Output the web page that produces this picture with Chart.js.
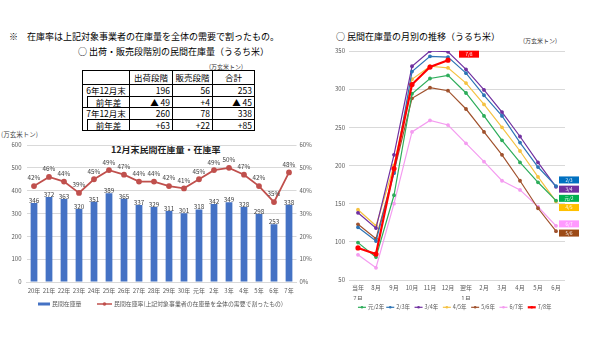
<!DOCTYPE html>
<html><head><meta charset="utf-8">
<script src="https://cdn.jsdelivr.net/npm/chart.js@4"></script>
<style>
body{margin:0;width:600px;height:338px;background:#fff;position:relative;overflow:hidden;font-family:"Noto Sans CJK JP",sans-serif;color:#000}
.abs{position:absolute;white-space:nowrap;line-height:12px}
#tbl{position:absolute;left:82px;top:70px;border-collapse:collapse;border:1.5px solid #000;font-size:8.5px;line-height:1}
#tbl td{border:1px solid #000;padding:0 2px;height:10.5px;text-align:right}
#tbl tr.h td{height:13px;text-align:center}
canvas{position:absolute}
</style></head><body>
<div class="abs" style="left:9px;top:31px;font-size:9px">※　在庫率は上記対象事業者の在庫量を全体の需要で割ったもの。</div>
<div class="abs" style="left:78px;top:46px;font-size:9px">○ 出荷・販売段階別の民間在庫量（うるち米）</div>
<div class="abs" style="left:209px;top:61px;font-size:6px;color:#333">(万玄米トン)</div>
<table id="tbl"></table>
<div class="abs" style="left:1px;top:128px;font-size:6.5px;color:#444">(万玄米トン)</div>
<div class="abs" style="left:111px;top:144px;font-size:9px;font-weight:bold;color:#222">12月末民間在庫量・在庫率</div>
<div class="abs" style="left:336px;top:31px;font-size:9px">○ 民間在庫量の月別の推移（うるち米）</div>
<div class="abs" style="left:523px;top:35px;font-size:6px;color:#333">(万玄米トン)</div>
<canvas id="c1" width="312" height="195" style="left:0;top:128px"></canvas>
<canvas id="c2" width="290" height="292" style="left:310px;top:30px"></canvas>
<script>
// ---- table data ----
const tableCols = ['出荷段階','販売段階','合計'];
const tableRowLabels = ['6年12月末','前年差','7年12月末','前年差'];
const tableValues = [
  ['196','56','253'],
  ['▲ 49','+4','▲ 45'],
  ['260','78','338'],
  ['+63','+22','+85']
];
// ---- left chart data ----
const years = ['20年','21年','22年','23年','24年','25年','26年','27年','28年','29年','30年','元年','2年','3年','4年','5年','6年','7年'];
const stockVolume = [346,372,363,320,351,389,365,337,329,311,301,318,342,349,328,298,253,338];
const stockRate = [42,46,44,39,45,49,47,44,44,42,41,45,49,50,47,42,35,48];
// ---- right chart data ----
const months = [['当年','7月'],'8月','9月','10月','11月','12月',['翌年','1月'],'2月','3月','4月','5月','6月'];
const seriesNames = ['元/2年','2/3年','3/4年','4/5年','5/6年','6/7年','7/8年'];
const seriesTags = ['元/2','2/3','3/4','4/5','5/6','6/7','7/8'];
const sR1_2 = [99,80,161,294,314,318,295,265,233,204,178,154];
const sR2_3 = [119,101,190,323,343,342,321,292,265,230,198,173];
const sR3_4 = [138,118,214,330,350,349,326,299,270,238,204,172];
const sR4_5 = [142,121,200,313,330,328,308,280,250,219,185,153];
const sR5_6 = [123,104,192,288,302,298,274,244,214,180,144,114];
const sR6_7 = [83,66,150,244,259,253,229,205,180,168,146,121];
const sR7_8 = [92,84,196,306,329,338];

// build table
(function(){
  const t=document.getElementById('tbl');
  let h='<tr class="h"><td colspan="2" style="width:42px"></td>'+tableCols.map((c,i)=>'<td style="width:'+[38,35,37][i]+'px">'+c+'</td>').join('')+'</tr>';
  tableRowLabels.forEach((lab,r)=>{
    const sub = lab==='前年差';
    h+='<tr>';
    if(!sub){ h+='<td colspan="2" style="text-align:center;border-bottom:none">'+lab+'</td>'; }
    else { h+='<td style="width:4px;border-top:none;padding:0"></td><td style="text-align:center;border-top:1px solid #000">'+lab+'</td>'; }
    tableValues[r].forEach(v=>{ h+='<td>'+v+'</td>'; });
    h+='</tr>';
  });
  t.innerHTML=h;
})();

const FONT='"Noto Sans CJK JP", sans-serif';
Chart.defaults.font.family=FONT;
Chart.defaults.color='#595959';
Chart.defaults.animation=false;

const leftLabels={id:'leftLabels',afterDatasetsDraw(chart){
  const ctx=chart.ctx;ctx.save();
  ctx.font='6.3px '+FONT;ctx.fillStyle='#404040';ctx.textAlign='center';ctx.textBaseline='middle';
  chart.getDatasetMeta(1).data.forEach((el,i)=>ctx.fillText(String(stockVolume[i]),el.x,el.y-2.5));
  chart.getDatasetMeta(0).data.forEach((el,i)=>ctx.fillText(stockRate[i]+'%',el.x,el.y-8));
  ctx.restore();
}};
const leftLegend={id:'leftLegend',afterDraw(chart){
  const ctx=chart.ctx,a=chart.chartArea;ctx.save();
  const y=a.bottom+22;
  ctx.font='5.9px '+FONT;ctx.textBaseline='middle';ctx.textAlign='left';
  ctx.fillStyle='#4472C4';ctx.fillRect(38,y-1.5,12,3);
  ctx.fillStyle='#595959';ctx.fillText('民間在庫量',52,y);
  ctx.strokeStyle='#C0504D';ctx.lineWidth=1.5;ctx.beginPath();ctx.moveTo(97,y);ctx.lineTo(112,y);ctx.stroke();
  ctx.fillStyle='#C0504D';ctx.beginPath();ctx.arc(104.5,y,1.8,0,Math.PI*2);ctx.fill();
  ctx.fillStyle='#595959';ctx.fillText('民間在庫率(上記対象事業者の在庫量を全体の需要で割ったもの)',114,y);
  ctx.restore();
}};

new Chart(document.getElementById('c1'),{
  data:{labels:years,datasets:[
    {type:'line',label:'民間在庫率',data:stockRate,yAxisID:'y1',borderColor:'#C0504D',backgroundColor:'#C0504D',borderWidth:1.8,pointRadius:2,pointHoverRadius:2,order:0},
    {type:'bar',label:'民間在庫量',data:stockVolume,yAxisID:'y',backgroundColor:'#4472C4',categoryPercentage:1,barPercentage:0.45,order:1}
  ]},
  options:{responsive:false,devicePixelRatio:1,
    layout:{padding:{top:17,bottom:22,left:0,right:0}},
    plugins:{legend:{display:false},tooltip:{enabled:false}},
    scales:{
      x:{offset:true,grid:{display:false,drawTicks:false},border:{color:'#D9D9D9'},ticks:{font:{size:6},padding:5,maxRotation:0,autoSkip:false},afterFit(s){s.height=19;}},
      y:{min:0,max:600,ticks:{stepSize:100,font:{size:6},padding:5},grid:{color:'#D9D9D9',drawTicks:false},border:{display:false},afterFit(s){s.width=26.5;}},
      y1:{position:'right',min:0,max:60,ticks:{stepSize:10,font:{size:6},padding:3,callback:v=>v+'%'},grid:{drawOnChartArea:false,drawTicks:false},border:{display:false},afterFit(s){s.width=15.5;}}
    }
  },
  plugins:[leftLabels,leftLegend]
});

// right chart
const lineColors=['#2EAD5B','#2E75B6','#7030A0','#F5C242','#A0522D','#F49CF0','#FF0000'];
const tagColors=['#00B050','#0070C0','#7030A0','#FFC000','#9C4A16','#FF99FF','#FF0000'];
const seriesData=[sR1_2,sR2_3,sR3_4,sR4_5,sR5_6,sR6_7,sR7_8];

const endTags={id:'endTags',afterDatasetsDraw(chart){
  const ctx=chart.ctx;ctx.save();
  const items=chart.data.datasets.map((ds,i)=>{
    const meta=chart.getDatasetMeta(i);const last=meta.data[meta.data.length-1];
    return {x:last.x,y:last.y,ly:last.y,tag:seriesTags[i],color:tagColors[i],full:meta.data.length===months.length};
  });
  const side=items.filter(o=>o.full).sort((a,b)=>a.y-b.y);
  const gap=9.2;
  for(let k=0;k<80;k++){for(let j=1;j<side.length;j++){const d=side[j].ly-side[j-1].ly;if(d<gap){const m=(gap-d)/2;side[j-1].ly-=m;side[j].ly+=m;}}}
  const draw=(x,yc,o)=>{ctx.fillStyle=o.color;ctx.fillRect(x,yc-3.5,20,7);ctx.fillStyle='#fff';ctx.font='4.5px '+FONT;ctx.textAlign='center';ctx.textBaseline='middle';ctx.fillText(o.tag,x+10,yc);};
  side.forEach(o=>draw(o.x+3,o.ly,o));
  items.filter(o=>!o.full).forEach(o=>draw(o.x+11,o.y-6,o));
  ctx.restore();
}};
const rightLegend={id:'rightLegend',afterDraw(chart){
  const ctx=chart.ctx,a=chart.chartArea;ctx.save();
  ctx.font='5.5px '+FONT;ctx.textBaseline='middle';ctx.textAlign='left';
  const step=28.3,n=chart.data.datasets.length;
  let x=(a.left+a.right)/2-n*step/2;const y=a.bottom+27.3;
  chart.data.datasets.forEach(ds=>{
    ctx.strokeStyle=ds.borderColor;ctx.lineWidth=ds.borderWidth;ctx.beginPath();ctx.moveTo(x,y);ctx.lineTo(x+8,y);ctx.stroke();
    ctx.fillStyle=ds.borderColor;ctx.beginPath();ctx.arc(x+4,y,1.3,0,Math.PI*2);ctx.fill();
    ctx.fillStyle='#595959';ctx.fillText(ds.label,x+10,y);
    x+=step;
  });
  ctx.restore();
}};

new Chart(document.getElementById('c2'),{
  type:'line',
  data:{labels:months,datasets:seriesData.map((d,i)=>({
    label:seriesNames[i],data:d,borderColor:lineColors[i],backgroundColor:lineColors[i],
    borderWidth:i===6?2.2:1.2,pointRadius:i===6?1.5:1.3,pointHoverRadius:0,tension:0,order:i===6?0:1
  }))},
  options:{responsive:false,devicePixelRatio:1,
    layout:{padding:{top:21,bottom:22,left:0,right:35}},
    plugins:{legend:{display:false},tooltip:{enabled:false}},
    scales:{
      x:{offset:true,grid:{display:false,drawTicks:false},border:{display:false},ticks:{font:{size:6,lineHeight:1.83},padding:2,maxRotation:0,autoSkip:false},afterFit(s){s.height=20;}},
      y:{min:50,max:350,ticks:{stepSize:50,font:{size:6},padding:4},grid:{color:'#D9D9D9',drawTicks:false},border:{display:false},afterFit(s){s.width=39;}}
    }
  },
  plugins:[endTags,rightLegend]
});
</script>
</body></html>
